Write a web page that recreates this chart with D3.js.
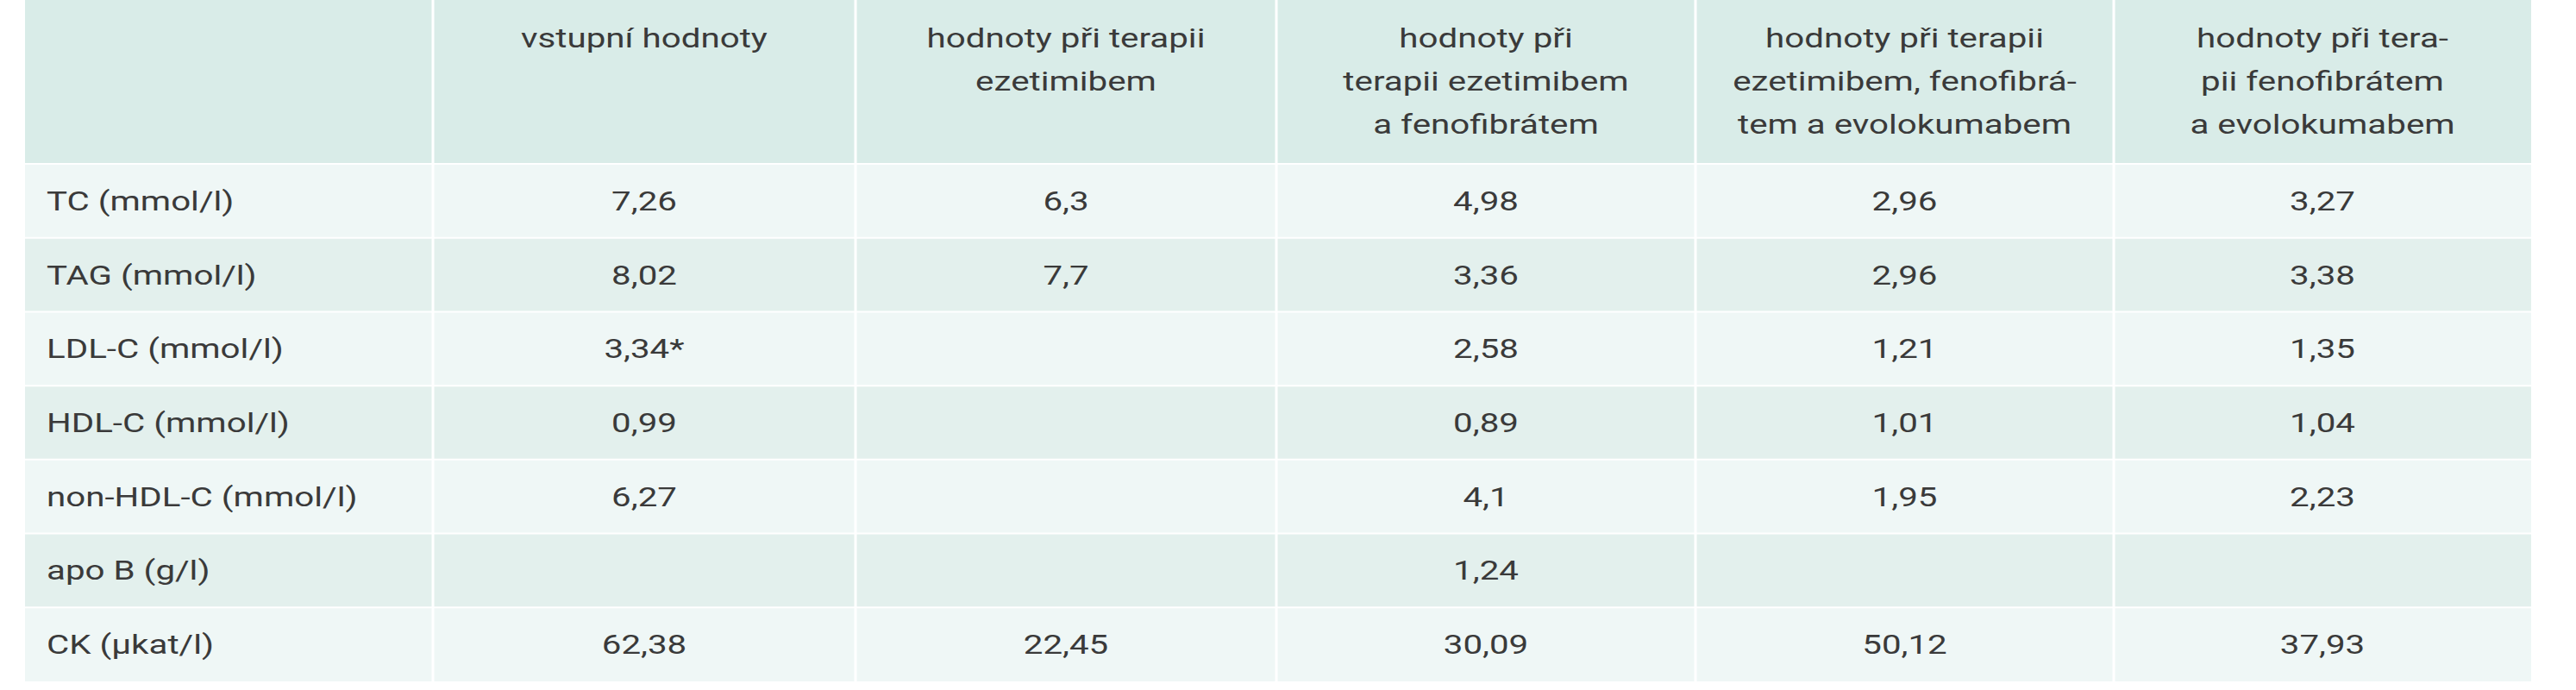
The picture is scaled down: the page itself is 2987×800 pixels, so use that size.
<!DOCTYPE html><html><head><meta charset="utf-8"><script src="https://cdn.jsdelivr.net/npm/d3@7"></script>
<style>body{margin:0;background:#fff}</style></head><body><svg id="c" width="2987" height="800"></svg>
<script>
const headers=[["vstupní hodnoty"],["hodnoty při terapii","ezetimibem"],["hodnoty při","terapii ezetimibem","a fenofibrátem"],["hodnoty při terapii","ezetimibem, fenofibrá-","tem a evolokumabem"],["hodnoty při tera-","pii fenofibrátem","a evolokumabem"]];
const rowLabels=["TC (mmol/l)","TAG (mmol/l)","LDL-C (mmol/l)","HDL-C (mmol/l)","non-HDL-C (mmol/l)","apo B (g/l)","CK (µkat/l)"];
const colVstupni=["7,26","8,02","3,34*","0,99","6,27","",  "62,38"];
const colEzetimib=["6,3","7,7","","","","","22,45"];
const colEzeFeno=["4,98","3,36","2,58","0,89","4,1","1,24","30,09"];
const colEzeFenoEvo=["2,96","2,96","1,21","1,01","1,95","","50,12"];
const colFenoEvo=["3,27","3,38","1,35","1,04","2,23","","37,93"];
const cols=[colVstupni,colEzetimib,colEzeFeno,colEzeFenoEvo,colFenoEvo];
const edges=[29,502,992,1480,1966,2451,2935];
const svg=d3.select("#c");
const font="Roboto,'Liberation Sans',sans-serif";
const y=d3.scaleBand().domain(d3.range(rowLabels.length)).range([190,790]);
const g=svg.append("g");
for(let c=0;c<6;c++){
  g.append("rect").attr("x",edges[c]).attr("y",0).attr("width",edges[c+1]-edges[c]).attr("height",190).attr("fill","#d9ece8");
}
rowLabels.forEach((r,i)=>{
  for(let c=0;c<6;c++) g.append("rect").attr("x",edges[c]).attr("y",y(i)).attr("width",edges[c+1]-edges[c]).attr("height",y.bandwidth()).attr("fill",i%2==0?"#eff7f6":"#e3f0ed");
});
edges.slice(1,-1).forEach(e=>g.append("line").attr("x1",e).attr("x2",e).attr("y1",0).attr("y2",790).attr("stroke","#fff").attr("stroke-width",3));
d3.range(rowLabels.length).forEach(i=>g.append("line").attr("x1",edges[0]).attr("x2",edges[6]).attr("y1",y(i)).attr("y2",y(i)).attr("stroke","#fff").attr("stroke-width",2));
const tx=(x,yy,t,a)=>g.append("text").attr("transform",`translate(${x},${yy}) scale(1.3,1)`).attr("text-anchor",a).attr("font-family",font).attr("font-size",31).attr("fill","#3a3a3a").text(t);
headers.forEach((h,c)=>{const cx=(edges[c+1]+edges[c+2])/2;h.forEach((l,k)=>tx(cx,55+k*50,l,"middle"));});
rowLabels.forEach((r,i)=>{
  const yy=y(i)+y.bandwidth()/2+11;
  tx(54,yy,r,"start");
  cols.forEach((col,c)=>{if(col[i])tx((edges[c+1]+edges[c+2])/2,yy,col[i],"middle");});
});
</script></body></html>
